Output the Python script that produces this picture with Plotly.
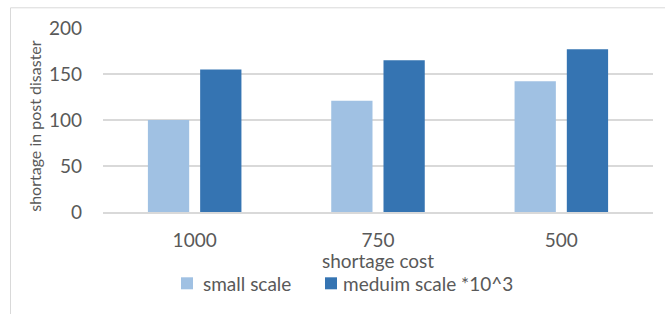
import plotly.graph_objects as go

categories = ["1000", "750", "500"]
small_scale = [100, 121, 142]
medium_scale = [155, 165, 177]
series_names = ["small scale", "meduim scale *10^3"]
series_colors = ["#A0C1E3", "#3574B2"]
y_ticks = [0, 50, 100, 150, 200]

TEXT = "#595959"
FONT = "Lato"
FS = 19
L, R, T, B = 103, 12, 27.7, 102.3
W, H = 665, 314
PW, PH = W - L - R, H - T - B

def px_y(py):
    return (H - B - py) / PH

def px_x(px):
    return (px - L) / PW

fig = go.Figure()
fig.add_trace(go.Bar(x=categories, y=small_scale, name=series_names[0],
                     marker=dict(color=series_colors[0], line=dict(width=0))))
fig.add_trace(go.Bar(x=categories, y=medium_scale, name=series_names[1],
                     marker=dict(color=series_colors[1], line=dict(width=0))))

# custom legend (square + text) positions in pixels
legend_sq_x = [181, 325]
legend_txt_x = [201, 341]
legend_y = 283

shapes = [dict(type="rect", xref="paper", yref="paper",
               x0=px_x(10.5), x1=px_x(700), y0=px_y(400), y1=px_y(7.5),
               line=dict(color="#d9d9d9", width=1), fillcolor="rgba(0,0,0,0)", layer="below")]
annotations = [
    dict(text="shortage cost", xref="paper", yref="paper", x=0.5, y=px_y(260),
         xanchor="center", yanchor="middle", showarrow=False,
         font=dict(family=FONT, size=FS, color=TEXT)),
    dict(text="shortage in post disaster", xref="paper", yref="paper", x=px_x(35), y=px_y(125.5),
         xanchor="center", yanchor="middle", showarrow=False, textangle=-90,
         font=dict(family=FONT, size=16, color=TEXT)),
]
for name, col, sx, tx in zip(series_names, series_colors, legend_sq_x, legend_txt_x):
    shapes.append(dict(type="rect", xref="paper", yref="paper",
                       x0=px_x(sx), x1=px_x(sx + 12), y0=px_y(legend_y + 6), y1=px_y(legend_y - 6),
                       line=dict(width=0), fillcolor=col))
    annotations.append(dict(text=name, xref="paper", yref="paper", x=px_x(tx), y=px_y(legend_y),
                            xanchor="left", yanchor="middle", showarrow=False,
                            font=dict(family=FONT, size=FS, color=TEXT)))

fig.update_layout(
    width=W, height=H,
    margin=dict(l=L, r=R, t=T, b=B, pad=0),
    paper_bgcolor="white", plot_bgcolor="white",
    barmode="group", bargap=0.43, bargroupgap=0.21,
    font=dict(family=FONT, color=TEXT, size=FS),
    showlegend=False,
    xaxis=dict(type="category", showgrid=False, showline=True, linecolor="#d9d9d9", linewidth=2,
               ticks="", tickfont=dict(family=FONT, size=FS, color=TEXT), ticklabelstandoff=10),
    yaxis=dict(range=[0, 200], tickvals=y_ticks, showgrid=True, gridcolor="#d9d9d9", gridwidth=1.5,
               zeroline=False, showline=False, ticks="",
               tickfont=dict(family=FONT, size=FS, color=TEXT), ticklabelstandoff=20),
    shapes=shapes,
    annotations=annotations,
)

fig.write_html("out.html", config={"displayModeBar": False},
               post_script="document.body.style.margin='0';")
